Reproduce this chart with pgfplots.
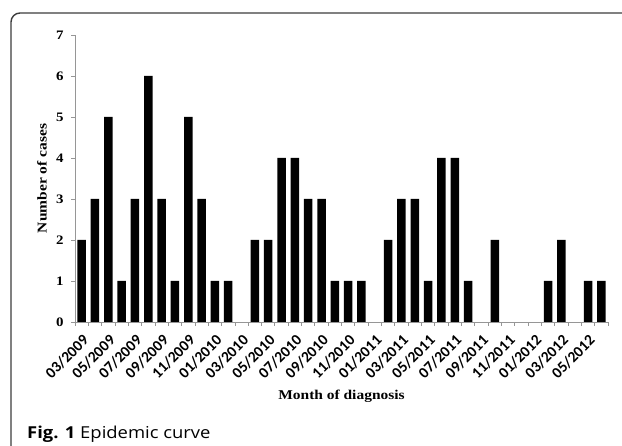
\documentclass[border=0pt]{standalone}
\usepackage{fontspec}
\setmainfont{Liberation Serif}
\newfontfamily\labfont[FakeStretch=1.15]{Liberation Serif}
\newfontfamily\tickfont{Carlito}
\newfontfamily\capfont[FakeStretch=1.12]{Open Sans}
\usepackage{pgfplots}
\pgfplotsset{compat=1.18}
\definecolor{axgray}{RGB}{150,150,150}
\definecolor{framegray}{RGB}{60,60,60}
\begin{document}
\begin{tikzpicture}[x=1bp,y=1bp]
\path[use as bounding box] (0,0) rectangle (622,446);
\draw[framegray, line width=1.4bp, rounded corners=9bp] (11,0) -- (11,433) -- (622,433);
\begin{axis}[
  at={(75bp,124bp)}, anchor=south west,
  scale only axis, width=533bp, height=287bp,
  xmin=-0.5, xmax=39.5, ymin=0, ymax=7,
  axis x line*=bottom, axis y line*=left,
  axis line style={axgray, line width=0.8bp},
  ytick={0,1,2,3,4,5,6,7},
  xtick={-0.5,0.5,...,39.5}, xticklabels={},
  extra x ticks={0,2,...,38},
  extra x tick labels={03/2009,05/2009,07/2009,09/2009,11/2009,01/2010,03/2010,05/2010,07/2010,09/2010,11/2010,01/2011,03/2011,05/2011,07/2011,09/2011,11/2011,01/2012,03/2012,05/2012},
  extra x tick style={major tick length=0pt},
  tick align=outside, major tick length=4bp,
  tick style={axgray, line width=0.8bp},
  /pgf/number format/assume math mode=true,
  x tick label style={font=\tickfont\bfseries\fontsize{15.5}{15.5}\selectfont, xshift=5bp, yshift=-15bp, rotate=45, anchor=east, inner sep=1bp},
  y tick label style={font=\labfont\bfseries\fontsize{13}{13}\selectfont, xshift=-4bp},
  xlabel={Month of diagnosis},
  ylabel={Number of cases},
  xlabel style={font=\labfont\bfseries\fontsize{13.5}{14}\selectfont, at={(axis description cs:0.5,-0.258)}, anchor=center},
  ylabel style={font=\labfont\bfseries\fontsize{13.5}{14}\selectfont, at={(axis description cs:-0.062,0.5)}, anchor=center},
]
% months with no cases (03/2010, 01/2011, 09/2011, 11/2011-01/2012, 04/2012) have no bar
\addplot[ybar, bar width=8.5bp, fill=black, draw=none] coordinates {
(0,2) (1,3) (2,5) (3,1) (4,3) (5,6) (6,3) (7,1) (8,5) (9,3)
(10,1) (11,1) (13,2) (14,2) (15,4) (16,4) (17,3) (18,3) (19,1)
(20,1) (21,1) (23,2) (24,3) (25,3) (26,1) (27,4) (28,4) (29,1)
(31,2) (35,1) (36,2) (38,1) (39,1)
};
\end{axis}
\node[anchor=base west, inner sep=0, font=\capfont\fontsize{16.5}{16.5}\selectfont] at (27,7) {\textbf{Fig. 1} Epidemic curve};
\end{tikzpicture}
\end{document}
